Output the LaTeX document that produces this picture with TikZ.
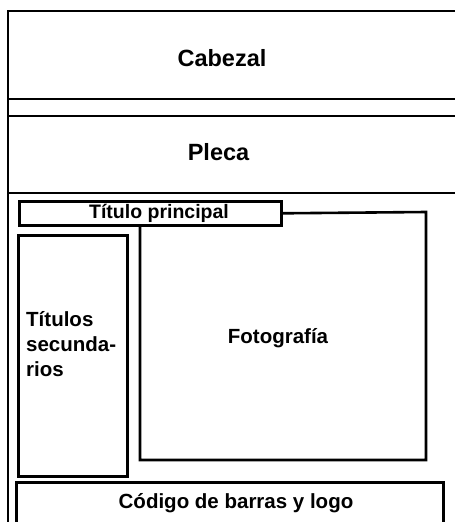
\documentclass[tikz,border=0pt]{standalone}
\usepackage{fontspec}
\setmainfont{Liberation Sans}
\begin{document}
\begin{tikzpicture}[x=1pt,y=-1pt,
  frame/.style={line width=1.6pt},
  box/.style={draw,line width=2.6pt,inner sep=0pt,anchor=north west},
  lbl/.style={font=\bfseries\fontsize{20.5}{25}\selectfont,inner sep=0pt},
  head/.style={font=\bfseries\fontsize{23.5}{28}\selectfont,inner sep=0pt}]
\useasboundingbox (0,0) rectangle (455,522);
% outer frame lines
\coordinate (tl) at (8,11);
\coordinate (tr) at (455,11);
\coordinate (bl) at (8,522);
\draw[frame] (bl) -- (tl) -- (tr);
\draw[frame] (8,99) -- (455,99);
\draw[frame] (8,116) -- (455,116);
\draw[frame] (8,193) -- (455,193);
% headings
\node[head,anchor=base] (cab) at (222,66) {Cabezal};
\node[head,anchor=base] (ple) at (218.5,160) {Pleca};
% title box
\node[box,minimum width=262pt,minimum height=24pt] (tp) at (18,200) {};
\node[lbl,anchor=base,font=\bfseries\fontsize{19.5}{24}\selectfont] (tpt) at (159,218) {Título principal};
% fotografia region
\coordinate (f1) at (tp.east);
\coordinate (f2) at (426,212);
\coordinate (f3) at (426,460);
\coordinate (f4) at (140,460);
\coordinate (f5) at (140,224);
\draw[line width=2.6pt] (f1) -- (f2) -- (f3) -- (f4) -- (f5);
\node[lbl,anchor=base] (foto) at (278,343) {Fotografía};
% titulos secundarios
\node[box,minimum width=109pt,minimum height=241pt] (ts) at (17,234) {};
\node[lbl,anchor=north west,align=left] (tst) at (26,311) {Títulos\\secunda-\\rios};
% codigo
\node[box,minimum width=427pt,minimum height=60pt] (cod) at (15,481) {};
\node[lbl,anchor=base] (codt) at (236,508) {Código de barras y logo};
\end{tikzpicture}
\end{document}
